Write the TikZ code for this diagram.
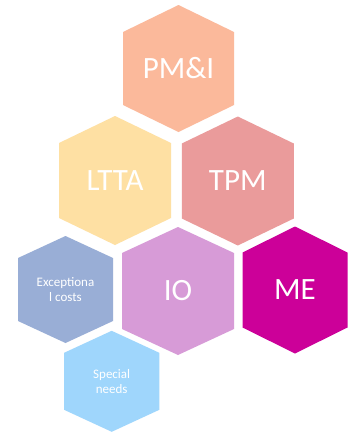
\documentclass[tikz,border=0pt]{standalone}
\usepackage{fontspec}
\setmainfont{Carlito}
\usetikzlibrary{calc}
\definecolor{pmi}{HTML}{FBB99B}
\definecolor{ltta}{HTML}{FEE0A3}
\definecolor{tpm}{HTML}{EA9B9B}
\definecolor{io}{HTML}{D79BD7}
\definecolor{me}{HTML}{CC0099}
\definecolor{exc}{HTML}{99AED6}
\definecolor{spec}{HTML}{9FD6FC}
\tikzset{big/.style={text=white,font=\fontsize{31}{36}\selectfont},
small/.style={text=white,align=center,font=\fontsize{13}{15}\selectfont}}
% centre, half width, half height, shoulder, colour
\newcommand{\hexcell}[5]{\fill[#5,shift={(#1)}] (0,-#3)--(#2,-#3+#4)--(#2,#3-#4)--(0,#3)--(-#2,#3-#4)--(-#2,-#3+#4)--cycle;}

\begin{document}
\begin{tikzpicture}[x=1pt,y=-1pt]
\useasboundingbox[fill=white] (0,0) rectangle (348,432);
\hexcell{178.5,68.5}{55.5}{63.5}{27}{pmi}
\hexcell{115,180.5}{56}{64.5}{27}{ltta}
\hexcell{237.8,181}{56}{64.5}{27}{tpm}
\hexcell{178,291}{56}{64}{26}{io}
\hexcell{295,290}{52.5}{63.5}{26}{me}
\hexcell{65.5,289.5}{47.5}{53.5}{22}{exc}
\hexcell{111.7,381.3}{47.6}{50.5}{22}{spec}

\node[big] (pmitext) at (178.5,68.5) {PM\&I};
\node[big] (lttatext) at (115,180.5) {LTTA};
\node[big] (tpmtext) at (237.8,181) {TPM};
\node[big] (iotext) at (178,291) {IO};
\node[big] (metext) at (295,290) {ME};
\node[small] (exctext) at (65.5,289.5) {Exceptiona\\l costs};
\node[small] (spectext) at (111.7,381.3) {Special\\needs};
\end{tikzpicture}
\end{document}
